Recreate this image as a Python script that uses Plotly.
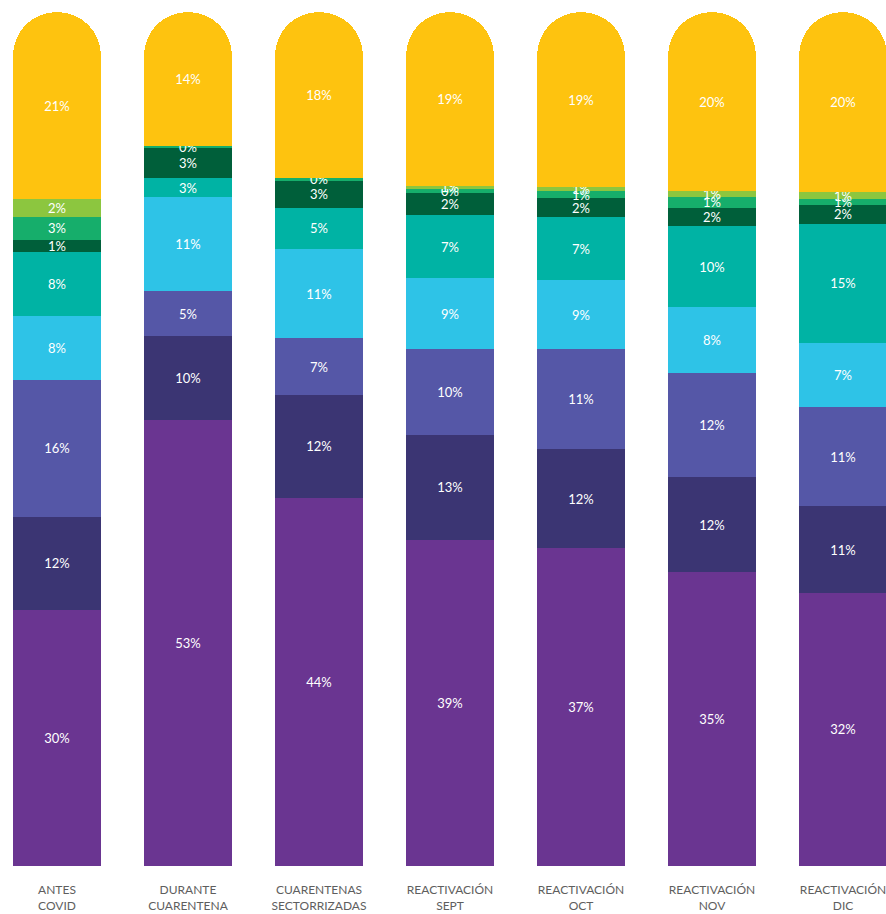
import plotly.graph_objects as go

categories = ["ANTES<br>COVID", "DURANTE<br>CUARENTENA<br>OBLIGATORIA", "CUARENTENAS<br>SECTORRIZADAS",
              "REACTIVACIÓN<br>SEPT", "REACTIVACIÓN<br>OCT", "REACTIVACIÓN<br>NOV", "REACTIVACIÓN<br>DIC"]

# segment sizes (share of each bar), bottom -> top
s1 = [30.0, 52.2, 43.1, 38.2, 37.2, 34.4, 32.0]
s2 = [10.9, 9.8, 12.1, 12.4, 11.6, 11.1, 10.1]
s3 = [16.0, 5.3, 6.6, 10.0, 11.7, 12.2, 11.6]
s4 = [7.5, 11.0, 10.5, 8.3, 8.1, 7.7, 7.6]
s5 = [7.5, 2.2, 4.8, 7.4, 7.4, 9.5, 13.9]
s6 = [1.4, 3.5, 3.2, 2.6, 2.2, 2.2, 2.2]
s7 = [2.7, 0.25, 0.35, 0.5, 0.8, 1.2, 0.7]
s8 = [2.1, 0, 0, 0.35, 0.5, 0.7, 0.8]
s9 = [21.9, 15.7, 19.4, 20.4, 20.5, 21.0, 21.1]

# printed labels (percent)
l1 = [30, 53, 44, 39, 37, 35, 32]
l2 = [12, 10, 12, 13, 12, 12, 11]
l3 = [16, 5, 7, 10, 11, 12, 11]
l4 = [8, 11, 11, 9, 9, 8, 7]
l5 = [8, 3, 5, 7, 7, 10, 15]
l6 = [1, 3, 3, 2, 2, 2, 2]
l7 = [3, 0, 0, 0, 1, 1, 1]
l8 = [2, None, None, 1, 1, 1, 1]
l9 = [21, 14, 18, 19, 19, 20, 20]

series = [s1, s2, s3, s4, s5, s6, s7, s8, s9]
labels = [l1, l2, l3, l4, l5, l6, l7, l8, l9]
colors = ["#6A3591", "#3B3573", "#5557A7", "#2EC3E7", "#00B3A4", "#005F3A", "#16AE6B", "#8CC63F", "#FEC30F"]

fig = go.Figure()
for vals, labs, col in zip(series, labels, colors):
    txt = [("" if l is None else f"{l}%") for l in labs]
    fig.add_trace(go.Bar(
        x=categories, y=vals, marker=dict(color=col, line=dict(width=0)),
        text=txt, textposition="inside", insidetextanchor="middle",
        textfont=dict(color="white", size=13, family="Lato"),
        hoverinfo="skip", showlegend=False,
    ))

fig.update_layout(
    barmode="stack", barnorm="percent",
    bargap=0.328, barcornerradius="50%",
    width=886, height=914,
    margin=dict(l=0, r=0, t=12, b=48),
    paper_bgcolor="white", plot_bgcolor="white",
    uniformtext=dict(minsize=13, mode="show"),
    xaxis=dict(range=[-0.435, 6.328], showgrid=False, zeroline=False, showline=False,
               ticks="", ticklabelstandoff=15, automargin=False,
               tickfont=dict(size=12, color="#5e5e5e", family="Lato")),
    yaxis=dict(range=[0, 100], visible=False, automargin=False),
)
fig.write_html("out.html")
